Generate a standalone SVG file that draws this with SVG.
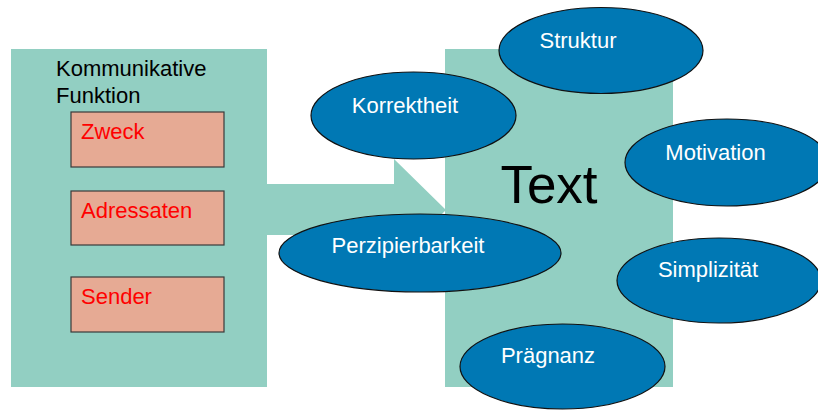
<svg xmlns="http://www.w3.org/2000/svg" width="818" height="410" viewBox="0 0 818 410">
  <style>
    .panel { fill: #92CFC2; }
    .box { fill: #E6AA94; stroke: #3a3a3a; stroke-width: 1.2; }
    .oval { fill: #0078B4; stroke: #111; stroke-width: 1.2; }
    .lbl { font-family: "Liberation Sans", Arial, sans-serif; font-size: 22px; }
    .red { fill: #FF0000; }
    .white { fill: #FFFFFF; text-anchor: middle; }
    .dark { fill: #000000; }
  </style>
  <rect width="818" height="410" fill="#FFFFFF"/>

  <!-- left panel: communicative function -->
  <g id="kommunikative-funktion">
    <rect class="panel" x="11" y="49" width="256" height="338"/>
    <text class="lbl dark" x="56" y="76">Kommunikative</text>
    <text class="lbl dark" x="56" y="103">Funktion</text>
  </g>

  <!-- right panel: text -->
  <g id="text-panel">
    <rect class="panel" x="445" y="49" width="228" height="338"/>
    <text x="549" y="203" text-anchor="middle" font-family="Liberation Sans, Arial, sans-serif" font-size="53" fill="#000">Text</text>
  </g>

  <!-- block arrow from function panel to text panel -->
  <g id="connectors">
    <polygon class="panel" points="267,184 394,184 394,159 446,210 394,261 394,235 267,235"/>
  </g>

  <g id="zweck">
    <rect class="box" x="71" y="112" width="153" height="55"/>
    <text class="lbl red" x="81" y="139">Zweck</text>
  </g>
  <g id="adressaten">
    <rect class="box" x="71" y="191" width="153" height="54"/>
    <text class="lbl red" x="81" y="218">Adressaten</text>
  </g>
  <g id="sender">
    <rect class="box" x="71" y="277" width="153" height="55"/>
    <text class="lbl red" x="81" y="304">Sender</text>
  </g>

  <!-- text qualities -->
  <g id="struktur">
    <ellipse class="oval" cx="601" cy="50.5" rx="102" ry="43"/>
    <text class="lbl white" x="578" y="48">Struktur</text>
  </g>
  <g id="korrektheit">
    <ellipse class="oval" cx="413.5" cy="115.5" rx="102.5" ry="43.5"/>
    <text class="lbl white" x="405" y="113">Korrektheit</text>
  </g>
  <g id="motivation">
    <ellipse class="oval" cx="727" cy="162.5" rx="102" ry="43.5"/>
    <text class="lbl white" x="715.5" y="160">Motivation</text>
  </g>
  <g id="perzipierbarkeit">
    <ellipse class="oval" cx="420" cy="253" rx="141" ry="39"/>
    <text class="lbl white" x="408" y="253">Perzipierbarkeit</text>
  </g>
  <g id="simplizitaet">
    <ellipse class="oval" cx="719" cy="280.5" rx="102" ry="42.5"/>
    <text class="lbl white" x="708" y="277">Simplizität</text>
  </g>
  <g id="praegnanz">
    <ellipse class="oval" cx="562.5" cy="366.5" rx="102.5" ry="42.5"/>
    <text class="lbl white" x="548" y="363">Prägnanz</text>
  </g>
</svg>
